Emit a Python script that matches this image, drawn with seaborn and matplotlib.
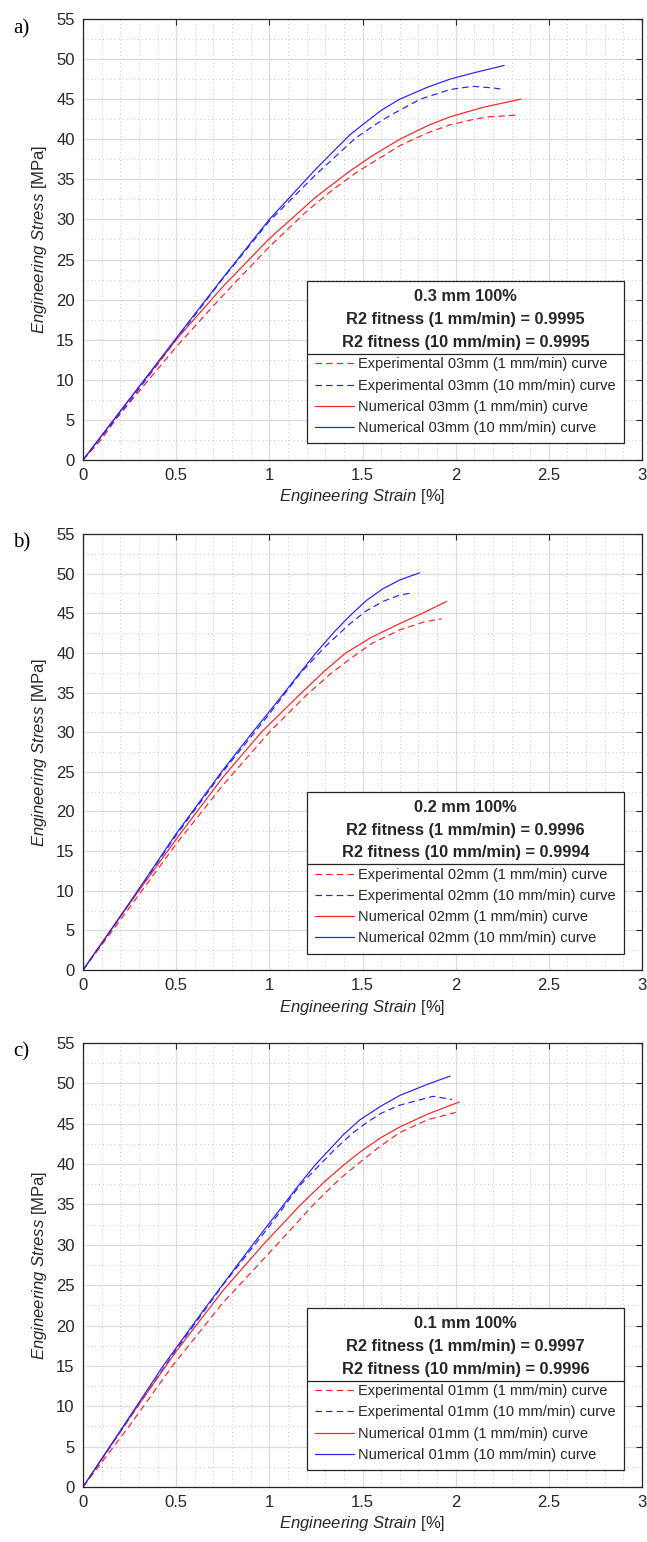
import seaborn as sns
import matplotlib.pyplot as plt
import pandas as pd
from matplotlib.lines import Line2D
from matplotlib.ticker import MultipleLocator

# ---- data ----
# panel a) 0.3 mm
a_exp1_x = [0, 0.1, 0.18, 0.5, 0.75, 1.0, 1.2, 1.34, 1.47, 1.61, 1.7, 1.85, 1.97, 2.1, 2.18, 2.32]
a_exp1_y = [0, 2.6, 5.2, 14.1, 20.5, 26.6, 31.0, 33.7, 35.9, 37.9, 39.2, 40.8, 41.8, 42.5, 42.8, 43.0]
a_exp10_x = [0, 0.25, 0.5, 0.75, 1.0, 1.25, 1.46, 1.56, 1.65, 1.81, 1.97, 2.09, 2.2, 2.26]
a_exp10_y = [0, 7.3, 15.0, 22.6, 29.8, 35.6, 40.1, 41.7, 43.0, 45.0, 46.2, 46.6, 46.4, 46.2]
a_num1_x = [0, 0.25, 0.5, 0.75, 1.0, 1.25, 1.43, 1.55, 1.7, 1.85, 1.97, 2.15, 2.35]
a_num1_y = [0, 7.6, 15.0, 21.6, 27.6, 32.8, 36.0, 37.9, 40.0, 41.7, 42.8, 44.0, 45.0]
a_num10_x = [0, 0.25, 0.5, 0.75, 1.0, 1.25, 1.43, 1.5, 1.6, 1.7, 1.85, 1.97, 2.1, 2.26]
a_num10_y = [0, 7.6, 15.2, 22.7, 30.0, 36.3, 40.5, 41.8, 43.6, 45.0, 46.5, 47.5, 48.3, 49.2]

# panel b) 0.2 mm
b_exp1_x = [0, 0.25, 0.5, 0.75, 1.0, 1.2, 1.33, 1.43, 1.55, 1.7, 1.83, 1.925]
b_exp1_y = [0, 7.9, 15.9, 23.3, 30.0, 34.7, 37.4, 39.2, 41.2, 42.9, 43.9, 44.3]
b_exp10_x = [0, 0.25, 0.5, 0.75, 1.0, 1.165, 1.3, 1.433, 1.52, 1.61, 1.7, 1.773]
b_exp10_y = [0, 8.4, 17.0, 25.0, 32.3, 37.4, 40.8, 43.7, 45.3, 46.5, 47.3, 47.6]
b_num1_x = [0, 0.25, 0.5, 0.75, 0.957, 1.165, 1.3, 1.41, 1.55, 1.7, 1.83, 1.952]
b_num1_y = [0, 8.4, 16.5, 24.3, 30.0, 34.8, 37.8, 40.0, 42.0, 43.7, 45.1, 46.5]
b_num10_x = [0, 0.25, 0.5, 0.75, 0.91, 1.0, 1.165, 1.25, 1.35, 1.433, 1.52, 1.61, 1.7, 1.806]
b_num10_y = [0, 8.5, 17.2, 25.2, 30.0, 32.6, 37.5, 40.0, 42.7, 44.7, 46.6, 48.1, 49.2, 50.1]

# panel c) 0.1 mm
c_exp1_x = [0, 0.25, 0.48, 0.75, 1.04, 1.25, 1.38, 1.49, 1.6, 1.7, 1.85, 2.0]
c_exp1_y = [0, 7.6, 15.0, 22.8, 30.0, 35.3, 38.2, 40.3, 42.3, 43.9, 45.5, 46.4]
c_exp10_x = [0, 0.25, 0.5, 0.75, 1.0, 1.165, 1.35, 1.45, 1.52, 1.6, 1.7, 1.88, 1.98]
c_exp10_y = [0, 8.5, 17.0, 25.0, 32.3, 37.4, 41.8, 43.9, 45.1, 46.3, 47.3, 48.4, 48.0]
c_num1_x = [0, 0.25, 0.5, 0.75, 0.966, 1.165, 1.3, 1.4, 1.487, 1.6, 1.7, 1.85, 2.02]
c_num1_y = [0, 8.6, 16.8, 24.3, 30.0, 34.9, 37.9, 39.9, 41.5, 43.3, 44.6, 46.2, 47.7]
c_num10_x = [0, 0.25, 0.43, 0.65, 0.91, 1.165, 1.25, 1.4, 1.487, 1.6, 1.7, 1.85, 1.97]
c_num10_y = [0, 8.7, 15.0, 22.0, 30.0, 37.6, 40.0, 43.7, 45.5, 47.2, 48.5, 49.9, 50.9]

panel_tags = ['a)', 'b)', 'c)']
thickness = ['03mm', '02mm', '01mm']
titles = ['0.3 mm 100%\nR2 fitness (1 mm/min) = 0.9995\nR2 fitness (10 mm/min) = 0.9995',
          '0.2 mm 100%\nR2 fitness (1 mm/min) = 0.9996\nR2 fitness (10 mm/min) = 0.9994',
          '0.1 mm 100%\nR2 fitness (1 mm/min) = 0.9997\nR2 fitness (10 mm/min) = 0.9996']
x_ticks = [0, 0.5, 1, 1.5, 2, 2.5, 3]
x_ticklabels = ['0', '0.5', '1', '1.5', '2', '2.5', '3']
y_ticks = [0, 5, 10, 15, 20, 25, 30, 35, 40, 45, 50, 55]

curves = [
    [(a_exp1_x, a_exp1_y), (a_exp10_x, a_exp10_y), (a_num1_x, a_num1_y), (a_num10_x, a_num10_y)],
    [(b_exp1_x, b_exp1_y), (b_exp10_x, b_exp10_y), (b_num1_x, b_num1_y), (b_num10_x, b_num10_y)],
    [(c_exp1_x, c_exp1_y), (c_exp10_x, c_exp10_y), (c_num1_x, c_num1_y), (c_num10_x, c_num10_y)],
]

sns.set_style('white')
plt.rcParams['font.family'] = ['Liberation Sans', 'DejaVu Sans']
plt.rcParams['mathtext.fontset'] = 'custom'
plt.rcParams['mathtext.it'] = 'Liberation Sans:italic'
plt.rcParams['mathtext.rm'] = 'Liberation Sans'

fig = plt.figure(figsize=(6.47, 15.42), dpi=100)
# axes rectangles [left, bottom, width, height] in figure fractions
rects = [[0.1283, 0.7017, 0.864, 0.286],
         [0.1283, 0.3709, 0.864, 0.2828],
         [0.1283, 0.0357, 0.864, 0.2879]]
tag_y = [0.981, 0.648, 0.318]

red = '#ff2020'
blue = '#2020ff'
styles = [(red, (0, (5.5, 3.5))), (blue, (0, (5.5, 3.5))), (red, '-'), (blue, '-')]
dark = '#262626'

axes = []
for i in range(3):
    ax = fig.add_axes(rects[i])
    axes.append(ax)
    names = ['Experimental %s (1 mm/min) curve' % thickness[i],
             'Experimental %s (10 mm/min) curve' % thickness[i],
             'Numerical %s (1 mm/min) curve' % thickness[i],
             'Numerical %s (10 mm/min) curve' % thickness[i]]
    for (xs, ys), (col, ls), name in zip(curves[i], styles, names):
        df = pd.DataFrame({'strain': xs, 'stress': ys})
        sns.lineplot(data=df, x='strain', y='stress', ax=ax, color=col, linestyle=ls,
                     linewidth=0.85, sort=False, estimator=None, label=name)

    ax.set_xlim(0, 3)
    ax.set_ylim(0, 55)
    ax.set_xticks(x_ticks, x_ticklabels)
    ax.set_yticks(y_ticks)
    ax.xaxis.set_minor_locator(MultipleLocator(0.1))
    ax.yaxis.set_minor_locator(MultipleLocator(2.5))
    ax.grid(which='major', color='#dcdcdc', linewidth=0.9, linestyle='-')
    ax.grid(which='minor', color='#c4c4c4', linewidth=0.7, linestyle=(0, (1, 3)))
    ax.set_axisbelow(True)
    ax.tick_params(which='major', direction='in', length=4, width=0.8, top=True, right=True,
                   labelsize=12, colors=dark, pad=6)
    ax.tick_params(which='minor', length=0)
    for sp in ax.spines.values():
        sp.set_color(dark)
        sp.set_linewidth(0.9)
    ax.set_xlabel(r'$\it{Engineering\ Strain}$ [%]', fontsize=12, color=dark, labelpad=3)
    ax.set_ylabel(r'$\it{Engineering\ Stress}$ [MPa]', fontsize=12, color=dark, labelpad=5)

    leg = ax.legend(title=titles[i], loc='lower right', bbox_to_anchor=(0.968, 0.038),
                    fontsize=10.5, title_fontproperties={'weight': 'bold', 'size': 11.8},
                    frameon=True, fancybox=False, framealpha=1, edgecolor=dark,
                    handlelength=2.7, handletextpad=0.3, labelspacing=0.5,
                    borderpad=0.55, borderaxespad=0)
    leg.get_frame().set_linewidth(0.9)
    leg.get_title().set_multialignment('center')
    leg.get_title().set_linespacing(1.65)
    for t in leg.get_texts():
        t.set_color(dark)

    fig.text(0.02, tag_y[i], panel_tags[i], family=['Liberation Serif', 'DejaVu Serif'],
             fontsize=15, color='black', va='center', ha='left')

# divider line between the legend title and the entries
fig.canvas.draw()
renderer = fig.canvas.get_renderer()
inv = fig.transFigure.inverted()
for ax in axes:
    leg = ax.get_legend()
    tb = leg.get_title().get_window_extent(renderer)
    hb = leg._legend_handle_box.get_window_extent(renderer)
    fb = leg.get_frame().get_window_extent(renderer)
    ymid = (tb.y0 + hb.y1) / 2
    (x0, y0) = inv.transform((fb.x0, ymid))
    (x1, _) = inv.transform((fb.x1, ymid))
    fig.add_artist(Line2D([x0, x1], [y0, y0], transform=fig.transFigure,
                          color=dark, linewidth=0.9))

fig.savefig('out.png', dpi=100)
